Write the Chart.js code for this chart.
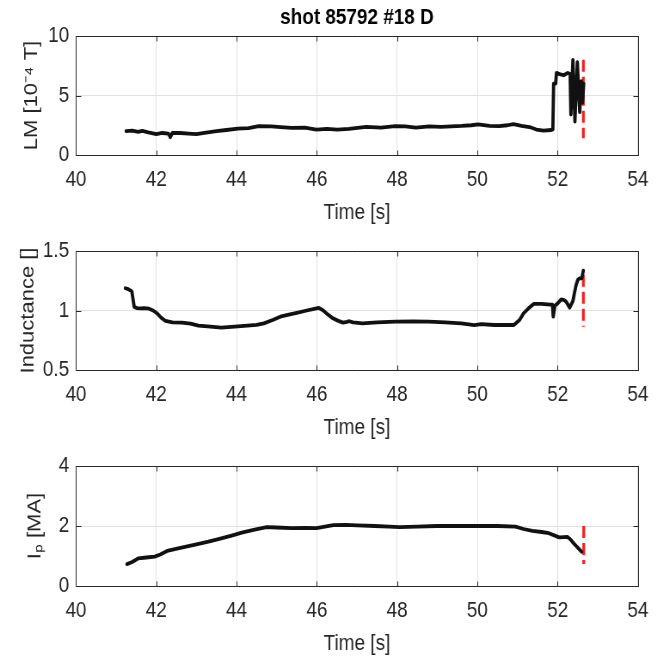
<!DOCTYPE html>
<html>
<head>
<meta charset="utf-8">
<script src="https://cdn.jsdelivr.net/npm/chart.js@4.4.1/dist/chart.umd.min.js"></script>
<style>
  html, body { margin:0; padding:0; background:#fff; }
  #wrap { position:relative; width:659px; height:660px; overflow:hidden; background:#fff; }
  canvas { position:absolute; left:0; transform-origin:0 0; }
</style>
</head>
<body>
<div id="wrap">
  <canvas id="c1"></canvas>
  <canvas id="c2"></canvas>
  <canvas id="c3"></canvas>
</div>
<script>
// ---------------- data ----------------
const chartTitle = "shot 85792 #18 D";
const xTicks = [40, 42, 44, 46, 48, 50, 52, 54];
const xLabel = "Time [s]";

const lmLabel = "LM [10\u207B\u2074 T]";
const lmTicks = [0, 5, 10];
const lmTime = [41.25,41.4,41.55,41.65,41.8,42.0,42.15,42.3,42.35,42.4,42.6,42.8,43.0,43.2,43.5,43.75,44.03,44.3,44.55,44.86,45.1,45.37,45.7,45.99,46.25,46.51,46.8,47.23,47.6,47.95,48.2,48.47,48.8,49.09,49.35,49.61,49.85,50.02,50.3,50.54,50.75,50.9,51.1,51.3,51.47,51.65,51.84,51.88,51.9,51.95,51.97,52.05,52.15,52.25,52.31,52.33,52.38,52.43,52.49,52.55,52.59,52.62,52.65];
const lmValue = [2.0,2.05,1.95,2.03,1.9,1.75,1.85,1.8,1.5,1.85,1.85,1.8,1.75,1.85,2.0,2.1,2.22,2.25,2.42,2.4,2.35,2.28,2.3,2.14,2.2,2.14,2.2,2.36,2.3,2.42,2.4,2.3,2.4,2.36,2.4,2.44,2.5,2.58,2.45,2.42,2.5,2.6,2.45,2.35,2.14,2.05,2.1,2.15,6.0,6.0,6.9,6.8,6.7,6.9,6.8,3.4,8.0,2.8,7.8,3.6,6.2,4.4,6.0];
const lmMarkTime = [52.64, 52.64];
const lmMarkValue = [8.0, 1.4];

const indLabel = "Inductance []";
const indTicks = [0.5, 1, 1.5];
const indTime = [41.23,41.3,41.39,41.45,41.52,41.61,41.7,41.82,41.92,42.02,42.12,42.23,42.4,42.64,42.85,43.05,43.35,43.62,43.95,44.27,44.5,44.68,44.9,45.09,45.3,45.5,45.75,45.99,46.05,46.16,46.28,46.4,46.52,46.65,46.75,46.81,46.9,47.14,47.5,47.96,48.4,48.78,49.2,49.6,49.92,50.1,50.42,50.91,51.05,51.15,51.28,51.4,51.6,51.81,51.87,51.89,51.93,52.0,52.09,52.15,52.21,52.3,52.38,52.42,52.46,52.5,52.54,52.6,52.64];
const indValue = [1.187,1.18,1.16,1.03,1.02,1.018,1.02,1.015,1.0,0.976,0.94,0.912,0.9,0.898,0.89,0.873,0.865,0.856,0.865,0.873,0.88,0.892,0.92,0.948,0.965,0.98,1.0,1.018,1.022,1.0,0.965,0.934,0.915,0.898,0.905,0.91,0.9,0.892,0.9,0.906,0.908,0.906,0.9,0.892,0.878,0.885,0.878,0.878,0.92,0.976,1.02,1.055,1.055,1.05,1.05,0.948,1.04,1.06,1.094,1.09,1.075,1.024,1.08,1.15,1.214,1.256,1.27,1.27,1.335];
const indMarkTime = [52.64, 52.64];
const indMarkValue = [1.30, 0.864];

const ipLabel = "I\u209A [MA]";
const ipTicks = [0, 2, 4];
const ipTime = [41.27,41.4,41.55,41.75,41.96,42.1,42.27,42.6,43.0,43.3,43.62,43.9,44.13,44.45,44.75,45.0,45.37,45.7,45.99,46.2,46.41,46.72,47.0,47.44,47.8,48.06,48.5,48.99,49.5,50.02,50.5,50.95,51.15,51.37,51.6,51.78,52.04,52.15,52.24,52.32,52.4,52.5,52.6];
const ipValue = [0.73,0.8,0.92,0.95,0.98,1.05,1.17,1.27,1.39,1.48,1.59,1.69,1.78,1.88,1.96,1.95,1.93,1.94,1.93,1.98,2.03,2.04,2.02,2.0,1.98,1.96,1.98,2.0,2.0,2.0,2.0,1.98,1.9,1.84,1.8,1.76,1.62,1.63,1.64,1.55,1.42,1.28,1.14];
const ipMarkTime = [52.65, 52.65];
const ipMarkValue = [2.0, 0.73];

// ---------------- styling ----------------
// the reference figure is horizontally compressed; draw wider and squeeze
const K = 0.86;
const FONT = "'Liberation Sans',Arial,sans-serif";
const AX = '#262626';
const GRID = '#e2e2e2';
const CW = Math.round(659 / K);

const boxPlugin = {
  id: 'boxTicks',
  afterDraw(chart, args, opts) {
    const {ctx, chartArea: a, scales: {x, y}} = chart;
    ctx.save();
    ctx.strokeStyle = AX;
    ctx.lineWidth = 1;
    const l = Math.round(a.left) + 0.5, r = Math.round(a.right) + 0.5;
    const t = Math.round(a.top) + 0.5, b = Math.round(a.bottom) + 0.5;
    ctx.beginPath();
    ctx.rect(l, t, r - l, b - t);
    const L = 6;
    x.ticks.forEach(tk => {
      const px = Math.round(x.getPixelForValue(tk.value)) + 0.5;
      ctx.moveTo(px, b); ctx.lineTo(px, b - 5);
      ctx.moveTo(px, t); ctx.lineTo(px, t + 5);
    });
    y.ticks.forEach(tk => {
      const py = Math.round(y.getPixelForValue(tk.value)) + 0.5;
      ctx.moveTo(l, py); ctx.lineTo(l + L, py);
      ctx.moveTo(r, py); ctx.lineTo(r - L, py);
    });
    ctx.stroke();
    if (opts && opts.title) {
      ctx.fillStyle = '#000';
      ctx.font = 'bold 22px ' + FONT;
      ctx.textAlign = 'center';
      ctx.textBaseline = 'middle';
      ctx.fillText(opts.title, (a.left + a.right) / 2, 18);
    }
    ctx.restore();
  }
};

function pts(xs, ys) { return xs.map((v, i) => ({x: v, y: ys[i]})); }

function makeChart(id, top, height, cfg) {
  const el = document.getElementById(id);
  el.width = CW; el.height = height;
  el.style.top = top + 'px';
  el.style.width = CW + 'px'; el.style.height = height + 'px';
  el.style.transform = 'scaleX(' + K + ')';
  return new Chart(el, {
    type: 'line',
    data: {
      datasets: [
        { data: pts(cfg.t, cfg.v), borderColor: '#111', borderWidth: 3.8, pointRadius: 0, tension: 0, fill: false, borderJoinStyle: 'round', borderCapStyle: 'round' },
        { data: pts(cfg.mt, cfg.mv), borderColor: '#ff1a1a', borderWidth: 3.2, borderDash: [12, 5], pointRadius: 0, fill: false }
      ]
    },
    options: {
      responsive: false,
      animation: false,
      devicePixelRatio: 1,
      layout: { padding: { top: 36, right: 13 / K, bottom: cfg.padBottom, left: 0 } },
      plugins: {
        legend: { display: false },
        tooltip: { enabled: false },
        title: { display: false },
        boxTicks: { title: cfg.title }
      },
      scales: {
        x: {
          type: 'linear', min: 40, max: 54,
          afterBuildTicks: s => { s.ticks = xTicks.map(v => ({value: v})); },
          afterFit: s => { s.height = 71; },
          grid: { color: GRID, lineWidth: 1, drawTicks: false },
          border: { display: false },
          ticks: { color: AX, padding: 12, font: { family: FONT, size: 22 }, maxRotation: 0 },
          title: { display: true, text: xLabel, color: AX, font: { family: FONT, size: 22, lineHeight: 1.2 }, padding: { top: 0, bottom: 0 } }
        },
        y: {
          type: 'linear', min: cfg.ticks[0], max: cfg.ticks[cfg.ticks.length - 1],
          afterBuildTicks: s => { s.ticks = cfg.ticks.map(v => ({value: v})); },
          afterFit: s => { s.width = 76 / K; },
          grid: { color: GRID, lineWidth: 1, drawTicks: false },
          border: { display: false },
          ticks: { color: AX, padding: 8, font: { family: FONT, size: 22 }, callback: v => String(v) },
          title: { display: true, text: cfg.label, color: AX, font: { family: FONT, size: 22, lineHeight: 1.2 }, padding: { top: cfg.yTitlePad, bottom: 0 } }
        }
      }
    },
    plugins: [boxPlugin]
  });
}

makeChart('c1', 0, 226, { t: lmTime, v: lmValue, mt: lmMarkTime, mv: lmMarkValue, ticks: lmTicks, label: lmLabel, title: chartTitle, padBottom: 0, yTitlePad: 24 });
makeChart('c2', 215, 226, { t: indTime, v: indValue, mt: indMarkTime, mv: indMarkValue, ticks: indTicks, label: indLabel, title: null, padBottom: 0, yTitlePad: 20 });
makeChart('c3', 430, 230, { t: ipTime, v: ipValue, mt: ipMarkTime, mv: ipMarkValue, ticks: ipTicks, label: ipLabel, title: null, padBottom: 3, yTitlePad: 28 });
</script>
</body>
</html>
